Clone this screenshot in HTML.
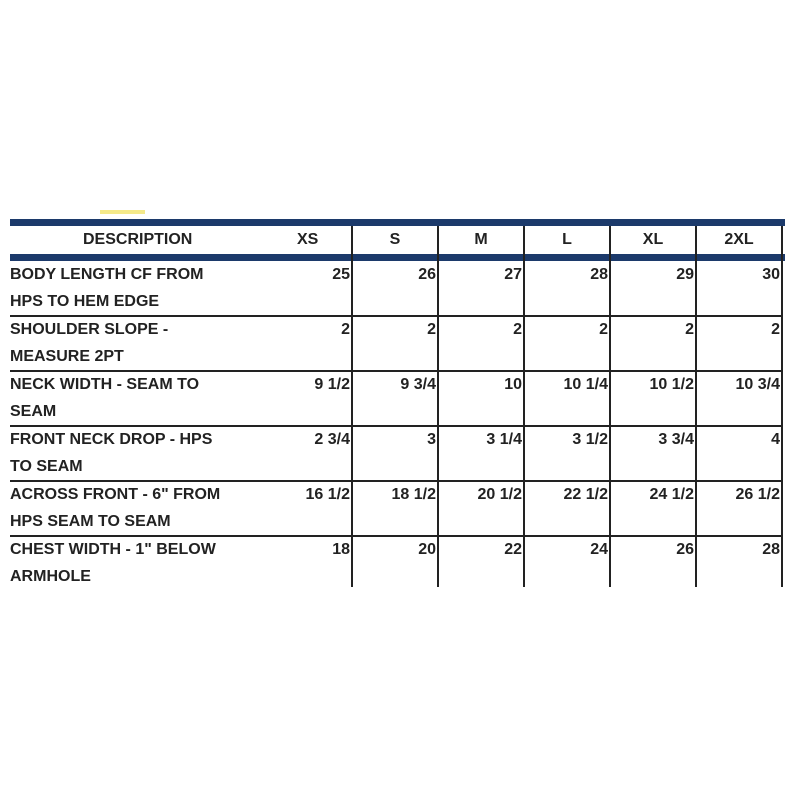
<!DOCTYPE html>
<html><head><style>
body{margin:0;width:800px;height:800px;background:#fff;position:relative;overflow:hidden;font-family:"Liberation Sans",Arial,sans-serif;font-weight:bold;color:#222;font-size:16px}
.a{position:absolute}
.bar{position:absolute;left:10px;width:775px;height:7px;background:#1c3a6b}
.h{position:absolute;left:10px;width:772px;height:2px;background:#222}
.v{position:absolute;width:2px;background:#222}
.t{position:absolute;white-space:nowrap;line-height:18px}
.n{position:absolute;text-align:right;width:80px;line-height:18px}
.c{position:absolute;text-align:center;width:86px;line-height:18px}
</style></head><body>
<div class="a" style="left:100px;top:210px;width:45px;height:4px;background:#f4e98a"></div>
<div class="bar" style="top:219px"></div>
<div class="bar" style="top:254px"></div>
<div class="h" style="top:315px"></div>
<div class="h" style="top:370px"></div>
<div class="h" style="top:425px"></div>
<div class="h" style="top:480px"></div>
<div class="h" style="top:535px"></div>
<div class="v" style="left:351px;top:226px;height:361px"></div>
<div class="v" style="left:437px;top:226px;height:361px"></div>
<div class="v" style="left:523px;top:226px;height:361px"></div>
<div class="v" style="left:609px;top:226px;height:361px"></div>
<div class="v" style="left:695px;top:226px;height:361px"></div>
<div class="v" style="left:781px;top:226px;height:361px"></div>
<div class="t" style="left:83px;top:231px">DESCRIPTION</div>
<div class="t" style="left:297px;top:231px">XS</div>
<div class="c" style="left:352px;top:231px">S</div>
<div class="c" style="left:438px;top:231px">M</div>
<div class="c" style="left:524px;top:231px">L</div>
<div class="c" style="left:610px;top:231px">XL</div>
<div class="c" style="left:696px;top:231px">2XL</div>
<div class="t" style="left:10px;top:266px">BODY LENGTH CF FROM</div><div class="t" style="left:10px;top:293px">HPS TO HEM EDGE</div>
<div class="t" style="left:10px;top:321px">SHOULDER SLOPE -</div><div class="t" style="left:10px;top:348px">MEASURE 2PT</div>
<div class="t" style="left:10px;top:376px">NECK WIDTH - SEAM TO</div><div class="t" style="left:10px;top:403px">SEAM</div>
<div class="t" style="left:10px;top:431px">FRONT NECK DROP - HPS</div><div class="t" style="left:10px;top:458px">TO SEAM</div>
<div class="t" style="left:10px;top:486px">ACROSS FRONT - 6" FROM</div><div class="t" style="left:10px;top:513px">HPS SEAM TO SEAM</div>
<div class="t" style="left:10px;top:541px">CHEST WIDTH - 1" BELOW</div><div class="t" style="left:10px;top:568px">ARMHOLE</div>
<div class="n" style="left:270px;top:266px">25</div><div class="n" style="left:356px;top:266px">26</div><div class="n" style="left:442px;top:266px">27</div><div class="n" style="left:528px;top:266px">28</div><div class="n" style="left:614px;top:266px">29</div><div class="n" style="left:700px;top:266px">30</div>
<div class="n" style="left:270px;top:321px">2</div><div class="n" style="left:356px;top:321px">2</div><div class="n" style="left:442px;top:321px">2</div><div class="n" style="left:528px;top:321px">2</div><div class="n" style="left:614px;top:321px">2</div><div class="n" style="left:700px;top:321px">2</div>
<div class="n" style="left:270px;top:376px">9 1/2</div><div class="n" style="left:356px;top:376px">9 3/4</div><div class="n" style="left:442px;top:376px">10</div><div class="n" style="left:528px;top:376px">10 1/4</div><div class="n" style="left:614px;top:376px">10 1/2</div><div class="n" style="left:700px;top:376px">10 3/4</div>
<div class="n" style="left:270px;top:431px">2 3/4</div><div class="n" style="left:356px;top:431px">3</div><div class="n" style="left:442px;top:431px">3 1/4</div><div class="n" style="left:528px;top:431px">3 1/2</div><div class="n" style="left:614px;top:431px">3 3/4</div><div class="n" style="left:700px;top:431px">4</div>
<div class="n" style="left:270px;top:486px">16 1/2</div><div class="n" style="left:356px;top:486px">18 1/2</div><div class="n" style="left:442px;top:486px">20 1/2</div><div class="n" style="left:528px;top:486px">22 1/2</div><div class="n" style="left:614px;top:486px">24 1/2</div><div class="n" style="left:700px;top:486px">26 1/2</div>
<div class="n" style="left:270px;top:541px">18</div><div class="n" style="left:356px;top:541px">20</div><div class="n" style="left:442px;top:541px">22</div><div class="n" style="left:528px;top:541px">24</div><div class="n" style="left:614px;top:541px">26</div><div class="n" style="left:700px;top:541px">28</div>
</body></html>
